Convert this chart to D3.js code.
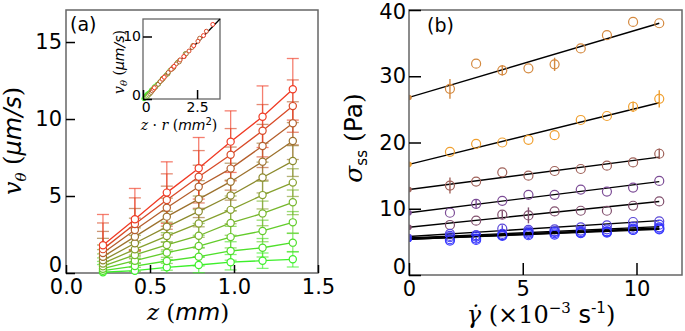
<!DOCTYPE html>
<html>
<head>
<meta charset="utf-8">
<script src="https://cdn.jsdelivr.net/npm/d3@7"></script>
<style>
  body { margin: 0; background: #fff; }
  svg { display: block; }
  .tick text { font-family: "DejaVu Sans", sans-serif; fill: #000; }
</style>
</head>
<body>
<div id="chart"></div>
<script>
// ---- panel (a) data: v_theta vs z, one row per radius (green -> red)
const zVals = [0.22, 0.41, 0.60, 0.79, 0.98, 1.17, 1.35];
const vSeries = [
  [0.05, 0.15, 0.37, 0.52, 0.70, 0.80, 0.89],
  [0.15, 0.45, 0.78, 1.06, 1.43, 1.64, 1.97],
  [0.28, 0.80, 1.32, 1.75, 2.33, 2.73, 3.29],
  [0.44, 1.17, 1.82, 2.42, 3.25, 3.87, 4.59],
  [0.62, 1.54, 2.40, 3.22, 4.10, 5.06, 5.87],
  [0.82, 1.93, 3.00, 4.00, 5.03, 6.20, 7.27],
  [1.05, 2.36, 3.66, 4.80, 5.93, 7.23, 8.57],
  [1.30, 2.79, 4.24, 5.60, 6.78, 8.25, 9.72],
  [1.55, 3.18, 4.74, 6.25, 7.68, 9.24, 10.84],
  [1.80, 3.49, 5.22, 6.80, 8.53, 10.15, 11.93]
];
const vErr = [0.5, 0.6, 0.7, 0.8, 0.9, 1.0, 1.2, 1.4, 1.7, 2.0];
const radii = [0.18, 0.39, 0.66, 0.92, 1.18, 1.45, 1.71, 1.94, 2.17, 2.39];
const aColors = ["#3cf02a", "#4ee02a", "#62cc2a", "#76b62c", "#86a02e", "#8c8a2e",
                 "#9c722e", "#b45e2c", "#d84a28", "#f03a24"];
const insetFit = { x: [0, 3.56], y: [0, 12.8] };

// ---- panel (b) data: sigma_ss vs shear rate
const gVals = [1.8, 2.95, 4.1, 5.25, 6.4, 7.55, 8.7, 9.85, 11.0];
const sSeries = [
  [28.1, 31.9, 30.9, 31.2, 31.8, 34.2, 36.2, 38.2, 38.0],
  [18.6, 19.8, 20.0, 20.4, 21.1, 23.4, 24.0, 25.4, 26.6],
  [13.5, 14.1, 15.5, 15.0, 15.7, 16.0, 16.5, 17.0, 18.3],
  [9.4, 10.75, 11.2, 12.1, 12.1, 12.9, 12.6, 13.2, 14.2],
  [7.55, 8.2, 9.1, 9.0, 9.6, 9.7, 9.7, 10.45, 11.1],
  [6.2, 6.0, 7.0, 6.8, 6.9, 7.2, 7.5, 8.0, 8.1],
  [5.9, 6.0, 6.2, 6.6, 6.6, 6.7, 6.9, 7.3, 7.6],
  [5.7, 5.8, 6.0, 6.4, 6.5, 6.5, 6.6, 7.0, 7.2],
  [5.4, 5.5, 6.0, 6.2, 6.3, 6.3, 6.5, 6.8, 7.0],
  [5.2, 5.3, 5.9, 6.0, 6.1, 6.4, 6.4, 6.8, 6.9]
];
const sErr = [
  [1.5, 0, 0.8, 0, 1.0, 0, 0, 0, 0],
  [0, 0, 0, 0, 0, 0, 0, 0.8, 1.3],
  [1.2, 0, 0, 0, 0, 0, 0, 0, 0.8],
  [0, 0.6, 0, 0, 0, 0, 0, 0, 0],
  [0, 0, 0.6, 1.2, 0, 0, 0, 0, 0],
  [0, 0, 0.5, 0, 0, 0, 0, 0, 0],
  [0, 0, 0, 0, 0, 0, 0, 0, 0],
  [0, 0, 0, 0, 0, 0, 0, 0, 0],
  [0, 0, 0, 0, 0, 0, 0, 0, 0],
  [0, 0.4, 0, 0, 0, 0, 0, 0, 0]
];
const intercepts = [26.8, 16.7, 12.9, 9.4, 7.2, 5.8, 5.6, 5.5, 5.4, 5.4];
const fitEnds = [38.0, 26.0, 17.8, 14.1, 11.1, 8.2, 7.3, 7.1, 7.0, 6.9];
const fitRange = [0, 11];
const bColors = ["#d4893f", "#f0a030", "#a0625a", "#7c4c96", "#82506e",
                 "#5a48d8", "#4a40f0", "#3838f8", "#2a2aff", "#3a3aff"];

const W = 685, H = 331;
const svg = d3.select("#chart").append("svg").attr("width", W).attr("height", H);
const frameColor = "#666";
const serif = "'DejaVu Serif', serif";
const sans = "'DejaVu Sans', sans-serif";

function styleAxis(g, fs) {
  g.select(".domain").remove();
  g.selectAll(".tick line").attr("stroke", "#000").attr("stroke-width", 1.5);
  g.selectAll(".tick text").attr("font-size", fs);
}

// ================= panel (a)
const xA = d3.scaleLinear([0, 1.5], [66, 318]);
const yA = d3.scaleLinear([0, 17.08], [273, 10]);

const gA = svg.append("g");
gA.append("rect").attr("x", xA(0)).attr("y", yA(17.08))
  .attr("width", xA(1.5) - xA(0)).attr("height", yA(0) - yA(17.08))
  .attr("fill", "none").attr("stroke", frameColor).attr("stroke-width", 1.5);

// error bars
vSeries.forEach((vs, i) => {
  const eg = gA.append("g").attr("stroke", aColors[i]).attr("stroke-opacity", 0.65)
    .attr("stroke-width", 1.3);
  vs.forEach((v, j) => {
    const x = xA(zVals[j]);
    const lo = Math.max(0, v - vErr[i]), hi = v + vErr[i];
    eg.append("line").attr("x1", x).attr("x2", x).attr("y1", yA(lo)).attr("y2", yA(hi));
    eg.append("line").attr("x1", x - 6).attr("x2", x + 6).attr("y1", yA(hi)).attr("y2", yA(hi));
    if (v - vErr[i] > 0)
      eg.append("line").attr("x1", x - 6).attr("x2", x + 6).attr("y1", yA(lo)).attr("y2", yA(lo));
  });
});

const lineA = d3.line().x((d, j) => xA(zVals[j])).y(d => yA(d));
vSeries.forEach((vs, i) => {
  gA.append("path").attr("d", lineA(vs)).attr("fill", "none")
    .attr("stroke", aColors[i]).attr("stroke-width", 1.3);
  gA.selectAll(null).data(vs).join("circle")
    .attr("cx", (d, j) => xA(zVals[j])).attr("cy", d => yA(d)).attr("r", 3.6)
    .attr("fill", "#fff").attr("stroke", aColors[i]).attr("stroke-width", 1.2);
});

gA.append("g").attr("transform", `translate(0,${yA(0)})`)
  .call(d3.axisBottom(xA).tickValues([0, 0.5, 1.0, 1.5]).tickFormat(d3.format(".1f"))
    .tickSizeInner(-8).tickSizeOuter(0).tickPadding(6))
  .call(g => styleAxis(g, 21));
gA.append("g").attr("transform", `translate(${xA(0)},0)`)
  .call(d3.axisLeft(yA).tickValues([0, 5, 10, 15]).tickSizeInner(-9).tickSizeOuter(0).tickPadding(4))
  .call(g => styleAxis(g, 21))
  .call(g => g.selectAll(".tick text").filter(d => d === 0).attr("dy", "-0.05em"));

// axis labels (a)
gA.append("text").attr("transform", "translate(21,141) rotate(-90)")
  .attr("text-anchor", "middle").attr("font-size", 24)
  .call(t => {
    t.append("tspan").attr("font-family", serif).attr("font-style", "italic").text("v");
    t.append("tspan").attr("font-family", serif).attr("font-style", "italic")
      .attr("font-size", 15).attr("dy", 5).text("θ");
    t.append("tspan").attr("font-family", serif).attr("dy", -5).text(" (");
    t.append("tspan").attr("font-family", sans).attr("font-style", "italic").text("μm/s");
    t.append("tspan").attr("font-family", serif).text(")");
  });
gA.append("text").attr("x", 188).attr("y", 320).attr("text-anchor", "middle").attr("font-size", 23)
  .call(t => {
    t.append("tspan").attr("font-family", serif).attr("font-style", "italic").text("z");
    t.append("tspan").attr("font-family", serif).text(" (");
    t.append("tspan").attr("font-family", sans).attr("font-style", "italic").text("mm");
    t.append("tspan").attr("font-family", serif).text(")");
  });
gA.append("text").attr("x", 70).attr("y", 31).attr("font-family", sans).attr("font-size", 19).text("(a)");

// inset
const xI = d3.scaleLinear(insetFit.x, [143, 220]);
const yI = d3.scaleLinear(insetFit.y, [99, 19]);
const gI = svg.append("g");
gI.append("rect").attr("x", 143).attr("y", 19).attr("width", 77).attr("height", 80)
  .attr("fill", "#fff").attr("stroke", frameColor).attr("stroke-width", 1.3);
gI.append("line").attr("x1", xI(insetFit.x[0])).attr("y1", yI(insetFit.y[0]))
  .attr("x2", xI(insetFit.x[1])).attr("y2", yI(insetFit.y[1]))
  .attr("stroke", "#000").attr("stroke-width", 1.3);
vSeries.forEach((vs, i) => {
  gI.selectAll(null).data(vs).join("circle")
    .attr("cx", (d, j) => xI(zVals[j] * radii[i])).attr("cy", d => yI(d)).attr("r", 2)
    .attr("fill", "#fff").attr("stroke", aColors[i]).attr("stroke-width", 1);
});
gI.append("g").attr("transform", "translate(0,99)")
  .call(d3.axisBottom(xI).tickValues([0, 2.5]).tickFormat(d => d === 0 ? "0" : "2.5")
    .tickSizeInner(-9).tickSizeOuter(0).tickPadding(3))
  .call(g => styleAxis(g, 14))
  .call(g => g.selectAll(".tick text").filter(d => d === 0).attr("dx", "0.2em"));
gI.append("g").attr("transform", "translate(143,0)")
  .call(d3.axisLeft(yI).tickValues([0, 10]).tickSizeInner(-9).tickSizeOuter(0).tickPadding(2))
  .call(g => styleAxis(g, 14))
  .call(g => g.selectAll(".tick text").filter(d => d === 0).attr("dy", "0.05em"));
gI.append("text").attr("transform", "translate(124,62) rotate(-90)")
  .attr("text-anchor", "middle").attr("font-size", 14)
  .call(t => {
    t.append("tspan").attr("font-family", serif).attr("font-style", "italic").text("v");
    t.append("tspan").attr("font-family", serif).attr("font-style", "italic")
      .attr("font-size", 10).attr("dy", 3).text("θ");
    t.append("tspan").attr("font-family", serif).attr("dy", -3).text(" (");
    t.append("tspan").attr("font-family", sans).attr("font-style", "italic").text("μm/s");
    t.append("tspan").attr("font-family", serif).text(")");
  });
gI.append("text").attr("x", 179).attr("y", 130).attr("text-anchor", "middle").attr("font-size", 14)
  .call(t => {
    t.append("tspan").attr("font-family", serif).attr("font-style", "italic").text("z");
    t.append("tspan").attr("font-family", serif).text(" · ");
    t.append("tspan").attr("font-family", serif).attr("font-style", "italic").text("r");
    t.append("tspan").attr("font-family", serif).text(" (");
    t.append("tspan").attr("font-family", sans).attr("font-style", "italic").text("mm");
    t.append("tspan").attr("font-family", sans).attr("font-size", 10).attr("dy", -5).text("2");
    t.append("tspan").attr("font-family", serif).attr("dy", 5).text(")");
  });

// ================= panel (b)
const xB = d3.scaleLinear([0, 12], [409, 682]);
const yB = d3.scaleLinear([0, 40], [275, 10]);
const gB = svg.append("g");
svg.append("clipPath").attr("id", "clipB").append("rect")
  .attr("x", xB(0)).attr("y", yB(40)).attr("width", xB(12) - xB(0)).attr("height", yB(0) - yB(40));
const plotB = gB.append("g").attr("clip-path", "url(#clipB)");

sSeries.forEach((ss, i) => {
  plotB.append("line")
    .attr("x1", xB(fitRange[0])).attr("y1", yB(intercepts[i]))
    .attr("x2", xB(fitRange[1])).attr("y2", yB(fitEnds[i]))
    .attr("stroke", "#000").attr("stroke-width", 1.4);
  plotB.append("circle").attr("cx", xB(0)).attr("cy", yB(intercepts[i])).attr("r", 2.8)
    .attr("fill", bColors[i]);
  ss.forEach((s, j) => {
    const e = sErr[i][j];
    if (e > 0)
      plotB.append("line").attr("x1", xB(gVals[j])).attr("x2", xB(gVals[j]))
        .attr("y1", yB(s - e)).attr("y2", yB(s + e))
        .attr("stroke", bColors[i]).attr("stroke-width", 1.4);
  });
  plotB.selectAll(null).data(ss).join("circle")
    .attr("cx", (d, j) => xB(gVals[j])).attr("cy", d => yB(d)).attr("r", 4.5)
    .attr("fill", "none").attr("stroke", bColors[i]).attr("stroke-width", 1.2);
});

gB.append("rect").attr("x", xB(0)).attr("y", yB(40))
  .attr("width", xB(12) - xB(0)).attr("height", yB(0) - yB(40))
  .attr("fill", "none").attr("stroke", frameColor).attr("stroke-width", 1.5);
gB.append("g").attr("transform", `translate(0,${yB(0)})`)
  .call(d3.axisBottom(xB).tickValues([0, 5, 10]).tickSizeInner(-12).tickSizeOuter(0).tickPadding(6))
  .call(g => styleAxis(g, 21));
gB.append("g").attr("transform", `translate(${xB(0)},0)`)
  .call(d3.axisLeft(yB).tickValues([0, 10, 20, 30, 40]).tickSizeInner(-12).tickSizeOuter(0).tickPadding(3))
  .call(g => styleAxis(g, 21))
  .call(g => g.selectAll(".tick text").filter(d => d === 0).attr("dy", "-0.05em"))
  .call(g => g.selectAll(".tick text").filter(d => d === 40).attr("dy", "0.4em"));

gB.append("text").attr("transform", "translate(362,138) rotate(-90)")
  .attr("text-anchor", "middle").attr("font-size", 25)
  .call(t => {
    t.append("tspan").attr("font-family", serif).attr("font-style", "italic").text("σ");
    t.append("tspan").attr("font-family", sans).attr("font-size", 15).attr("dy", 5).text("ss");
    t.append("tspan").attr("font-family", serif).attr("dy", -5).text("  (");
    t.append("tspan").attr("font-family", sans).text("Pa");
    t.append("tspan").attr("font-family", serif).text(")");
  });
gB.append("text").attr("x", 541).attr("y", 323).attr("text-anchor", "middle").attr("font-size", 24)
  .call(t => {
    t.append("tspan").attr("font-family", serif).attr("font-style", "italic").text("γ̇");
    t.append("tspan").attr("font-family", serif).text(" (×10");
    t.append("tspan").attr("font-family", serif).attr("font-size", 15).attr("dy", -10).text("−3");
    t.append("tspan").attr("font-family", sans).attr("dy", 10).text(" s");
    t.append("tspan").attr("font-family", sans).attr("font-size", 15).attr("dy", -10).text("-1");
    t.append("tspan").attr("font-family", serif).attr("dy", 10).text(")");
  });
gB.append("text").attr("x", 427).attr("y", 32).attr("font-family", sans).attr("font-size", 19).text("(b)");
</script>
</body>
</html>
